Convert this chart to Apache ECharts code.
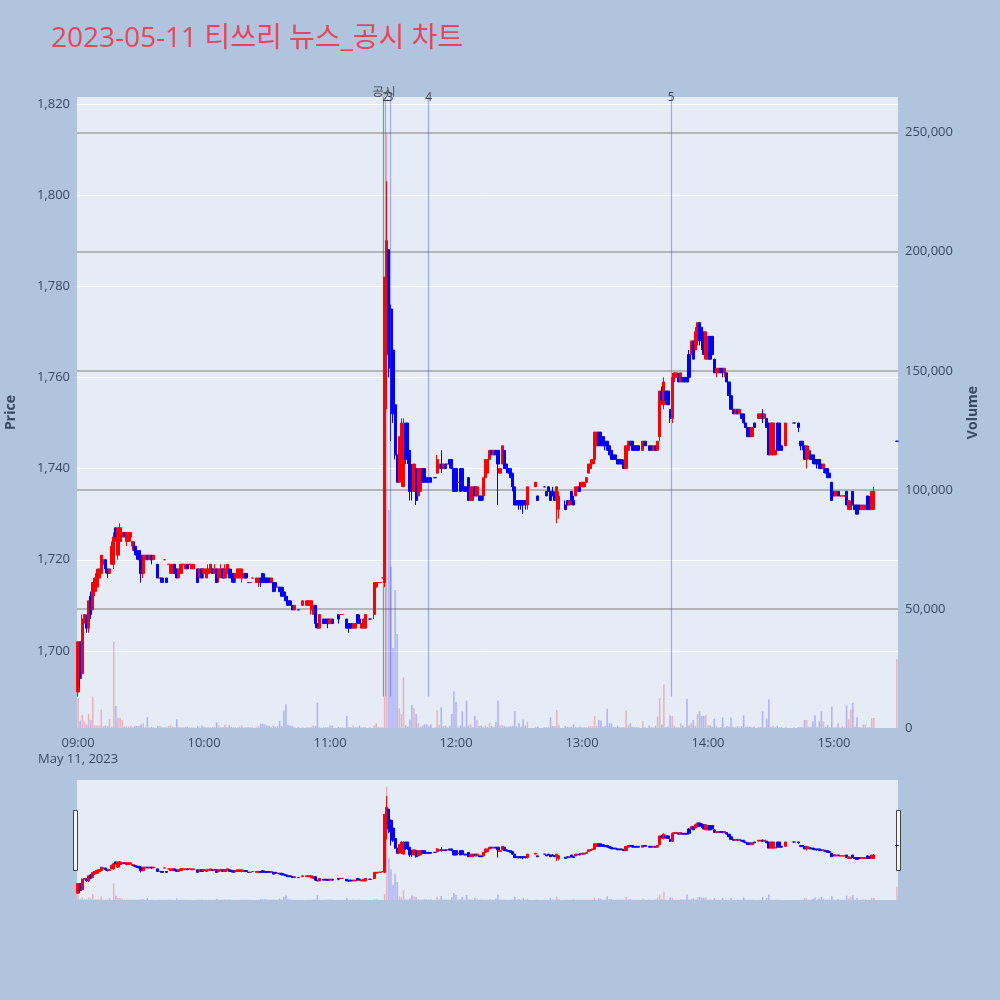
<!DOCTYPE html>
<html>
<head>
<meta charset="utf-8">
<script src="https://cdn.jsdelivr.net/npm/echarts@6/dist/echarts.min.js"></script>
<style>
html, body { margin: 0; padding: 0; background: #b0c4de; }
#main { width: 1000px; height: 1000px; }
</style>
</head>
<body>
<div id="main"></div>
<script>
// 1분봉 시각 (거래 없는 분은 빠짐)
var times = [
  '09:00','09:01','09:02','09:03','09:04','09:05','09:06','09:07','09:08','09:09',
  '09:10','09:11','09:12','09:13','09:14','09:15','09:16','09:17','09:18','09:19',
  '09:20','09:21','09:22','09:23','09:24','09:25','09:26','09:27','09:28','09:29',
  '09:30','09:31','09:32','09:33','09:34','09:35','09:36','09:38','09:39','09:40',
  '09:41','09:42','09:43','09:44','09:45','09:46','09:47','09:48','09:49','09:50',
  '09:51','09:52','09:53','09:54','09:55','09:57','09:58','09:59',
  '10:00','10:01','10:02','10:03','10:04','10:05','10:06','10:07','10:08','10:09',
  '10:10','10:11','10:12','10:13','10:14','10:15','10:16','10:17','10:18','10:19',
  '10:20','10:21','10:22','10:23','10:25','10:26','10:27','10:28','10:29','10:30',
  '10:31','10:32','10:33','10:34','10:35','10:36','10:37','10:38','10:39','10:40',
  '10:41','10:42','10:43','10:45','10:47','10:49','10:50','10:51','10:52','10:53',
  '10:54','10:55','10:57','10:58','10:59',
  '11:00','11:01','11:04','11:05','11:06','11:08','11:09','11:10','11:11','11:12',
  '11:13','11:14','11:15','11:16','11:17','11:19','11:21','11:22','11:23','11:24',
  '11:25','11:26','11:27','11:28','11:29','11:30','11:31','11:32','11:33','11:34',
  '11:35','11:36','11:37','11:38','11:39','11:40','11:41','11:42','11:43','11:44',
  '11:45','11:46','11:47','11:48','11:50','11:51','11:52','11:53','11:54','11:55',
  '11:56','11:57','11:58','11:59',
  '12:00','12:01','12:02','12:03','12:04','12:05','12:06','12:07','12:08','12:09',
  '12:10','12:11','12:12','12:13','12:14','12:15','12:16','12:17','12:18','12:19',
  '12:20','12:21','12:22','12:23','12:24','12:25','12:26','12:27','12:28','12:29',
  '12:30','12:31','12:32','12:33','12:34','12:38','12:39','12:42','12:43','12:44',
  '12:45','12:46','12:47','12:48','12:49','12:52','12:53','12:54','12:55','12:56',
  '12:57','12:58','12:59',
  '13:00','13:01','13:02','13:03','13:04','13:05','13:06','13:07','13:08','13:09',
  '13:10','13:11','13:12','13:13','13:14','13:15','13:16','13:17','13:18','13:19',
  '13:20','13:21','13:22','13:23','13:24','13:25','13:26','13:27','13:29','13:30',
  '13:32','13:33','13:34','13:35','13:36','13:37','13:38','13:39','13:40','13:41',
  '13:42','13:43','13:44','13:45','13:46','13:47','13:48','13:49','13:50','13:51',
  '13:52','13:53','13:54','13:55','13:56','13:57','13:58','13:59',
  '14:00','14:01','14:02','14:03','14:04','14:05','14:06','14:07','14:08','14:09',
  '14:10','14:11','14:12','14:13','14:14','14:15','14:16','14:17','14:18','14:19',
  '14:20','14:21','14:22','14:24','14:25','14:26','14:27','14:28','14:29','14:30',
  '14:31','14:32','14:33','14:34','14:35','14:37','14:41','14:43','14:44','14:45',
  '14:46','14:47','14:48','14:49','14:50','14:51','14:52','14:53','14:54','14:55',
  '14:56','14:57','14:58','14:59',
  '15:00','15:01','15:02','15:03','15:04','15:05','15:06','15:07','15:08','15:09',
  '15:10','15:11','15:12','15:13','15:14','15:15','15:16','15:17','15:18','15:19',
  '15:30'
];

// [시가, 종가, 저가, 고가]
var ohlc = [
  [1691,1702,1690,1702],[1702,1694,1692,1702],[1695,1707,1694,1708],[1707,1708,1706,1708],[1707,1705,1704,1708],
  [1705,1711,1704,1711],[1712,1708,1707,1713],[1709,1715,1709,1715],[1713,1716,1712,1716],[1714,1717,1713,1718],
  [1716,1718,1714,1718],[1717,1721,1716,1721],[1719,1720,1718,1721],[1720,1718,1717,1720],[1718,1717,1716,1718],
  [1717,1718,1717,1718],[1719,1723,1719,1724],[1719,1725,1718,1726],[1727,1725,1724,1727],[1721,1727,1720,1727],
  [1724,1727,1724,1728],[1725,1726,1724,1726],[1726,1725,1725,1726],[1724,1726,1723,1726],[1724,1726,1724,1726],
  [1725,1726,1724,1726],[1723,1724,1722,1724],[1723,1722,1721,1724],[1722,1721,1720,1723],[1722,1720,1720,1722],
  [1721,1717,1715,1721],[1717,1721,1716,1721],[1720,1721,1720,1721],[1721,1720,1720,1721],[1720,1721,1720,1721],
  [1721,1720,1719,1721],[1720,1721,1720,1721],[1719,1716,1716,1719],[1716,1716,1716,1716],[1716,1715,1715,1716],
  [1720,1720,1720,1720],[1716,1715,1715,1716],[1719,1719,1719,1719],[1717,1719,1717,1719],[1717,1719,1717,1719],
  [1719,1717,1717,1719],[1718,1716,1716,1718],[1716,1718,1716,1718],[1717,1719,1717,1719],[1719,1719,1719,1719],
  [1718,1719,1718,1719],[1719,1718,1718,1719],[1719,1719,1719,1719],[1718,1719,1718,1719],[1718,1719,1718,1719],
  [1718,1715,1715,1718],[1716,1718,1716,1718],[1718,1716,1716,1718],
  // 10시
  [1717,1718,1716,1718],[1716,1718,1716,1718],[1717,1718,1717,1719],[1718,1719,1717,1719],[1718,1717,1717,1718],
  [1717,1718,1717,1719],[1718,1715,1715,1718],[1716,1718,1715,1718],[1717,1718,1716,1719],[1718,1716,1716,1718],
  [1716,1718,1716,1719],[1717,1719,1716,1719],[1718,1716,1716,1718],[1717,1716,1715,1718],[1717,1715,1715,1717],
  [1716,1717,1715,1717],[1716,1718,1716,1718],[1716,1718,1716,1718],[1716,1718,1715,1718],[1716,1717,1716,1717],
  [1717,1716,1716,1717],[1715,1715,1715,1715],[1715,1715,1715,1715],[1716,1716,1716,1716],[1715,1716,1715,1716],
  [1715,1716,1714,1716],[1716,1715,1714,1716],[1717,1715,1715,1717],[1716,1715,1715,1717],[1716,1715,1715,1716],
  [1716,1715,1715,1716],[1715,1716,1715,1716],[1715,1713,1713,1715],[1715,1714,1713,1715],[1714,1714,1714,1714],
  [1714,1713,1713,1714],[1714,1712,1712,1714],[1713,1712,1712,1714],[1712,1711,1711,1713],[1711,1710,1710,1712],
  [1711,1710,1710,1711],[1710,1709,1709,1710],[1709,1710,1709,1710],[1709,1709,1709,1709],[1710,1711,1710,1711],
  [1710,1711,1710,1711],[1710,1711,1710,1711],[1709,1711,1708,1711],[1708,1710,1708,1710],[1710,1706,1705,1710],
  [1706,1705,1705,1706],[1705,1708,1705,1708],[1707,1706,1706,1707],[1707,1706,1706,1707],[1707,1706,1705,1707],
  // 11시
  [1706,1707,1706,1707],[1707,1706,1706,1707],[1708,1707,1706,1708],[1708,1708,1708,1708],[1708,1708,1708,1708],
  [1707,1705,1705,1707],[1706,1705,1704,1706],[1706,1705,1705,1706],[1705,1706,1705,1706],[1705,1706,1705,1706],
  [1708,1706,1706,1708],[1707,1706,1706,1708],[1705,1706,1705,1706],[1705,1707,1705,1707],[1705,1708,1705,1708],
  [1707,1707,1707,1707],[1708,1715,1707,1715],[1714,1715,1714,1715],[1715,1715,1715,1715],[1715,1715,1715,1715],
  [1716,1716,1716,1716],[1715,1782,1714,1782],[1768,1790,1753,1803],[1788,1765,1760,1788],[1775,1762,1746,1776],
  [1766,1752,1750,1766],[1754,1743,1742,1755],[1743,1737,1737,1743],[1737,1747,1737,1747],[1738,1750,1736,1751],
  [1736,1749,1736,1751],[1750,1742,1741,1750],[1750,1744,1741,1750],[1744,1735,1733,1744],[1740,1736,1733,1741],
  [1735,1741,1735,1741],[1740,1733,1732,1740],[1734,1740,1734,1740],[1735,1740,1735,1740],[1740,1737,1737,1740],
  [1740,1737,1737,1740],[1738,1737,1737,1738],[1738,1737,1737,1738],[1738,1737,1737,1738],[1738,1738,1738,1738],
  [1739,1742,1739,1743],[1740,1741,1740,1741],[1741,1740,1739,1744],[1740,1741,1740,1741],[1741,1740,1740,1741],
  [1741,1741,1741,1741],[1742,1741,1740,1742],[1742,1740,1740,1742],[1740,1735,1735,1740],
  // 12시
  [1740,1735,1735,1740],[1737,1737,1737,1737],[1740,1735,1735,1740],[1740,1736,1735,1740],[1736,1735,1735,1736],
  [1736,1735,1735,1736],[1738,1733,1733,1738],[1733,1736,1733,1736],[1733,1736,1733,1736],[1736,1734,1734,1736],
  [1734,1736,1734,1736],[1734,1733,1733,1734],[1734,1733,1733,1734],[1734,1738,1733,1738],[1738,1742,1738,1742],
  [1739,1742,1739,1742],[1742,1744,1742,1744],[1744,1743,1743,1744],[1743,1744,1743,1744],[1744,1743,1743,1744],
  [1744,1741,1732,1744],[1739,1740,1739,1740],[1741,1745,1741,1745],[1744,1740,1740,1744],[1741,1740,1739,1741],
  [1740,1739,1739,1740],[1740,1738,1738,1740],[1739,1736,1735,1739],[1736,1732,1732,1736],[1733,1732,1732,1733],
  [1733,1732,1731,1733],[1733,1732,1731,1733],[1733,1732,1730,1733],[1733,1732,1731,1733],[1732,1736,1731,1736],
  [1736,1737,1736,1737],[1734,1733,1733,1734],[1736,1736,1736,1736],[1735,1734,1734,1735],[1736,1735,1735,1736],
  [1735,1733,1733,1735],[1735,1734,1734,1736],[1734,1733,1733,1735],[1733,1736,1728,1736],[1731,1734,1729,1735],
  [1732,1731,1731,1733],[1733,1732,1732,1733],[1732,1733,1732,1733],[1735,1733,1732,1735],[1733,1732,1732,1734],
  [1734,1736,1734,1736],[1735,1736,1735,1736],[1736,1735,1735,1737],
  // 13시
  [1736,1737,1736,1737],[1736,1737,1736,1737],[1737,1738,1737,1738],[1739,1741,1739,1741],[1740,1741,1740,1742],
  [1741,1742,1741,1742],[1742,1748,1741,1748],[1745,1748,1745,1748],[1748,1745,1745,1748],[1748,1745,1745,1748],
  [1747,1745,1745,1747],[1746,1745,1744,1746],[1746,1744,1744,1746],[1745,1743,1743,1745],[1744,1742,1742,1744],
  [1743,1742,1742,1743],[1743,1742,1742,1743],[1742,1741,1741,1742],[1742,1741,1741,1742],[1742,1741,1741,1742],
  [1741,1740,1740,1742],[1740,1745,1740,1745],[1744,1746,1743,1746],[1746,1745,1745,1746],[1746,1744,1744,1746],
  [1745,1744,1744,1745],[1745,1744,1744,1745],[1745,1744,1744,1745],[1744,1746,1744,1746],[1746,1745,1745,1746],
  [1745,1744,1744,1745],[1745,1744,1744,1745],[1744,1745,1744,1745],[1745,1744,1744,1745],[1744,1746,1744,1746],
  [1747,1757,1746,1757],[1757,1755,1754,1758],[1754,1759,1753,1760],[1757,1755,1754,1757],[1757,1754,1754,1757],
  [1753,1751,1750,1753],[1751,1760,1750,1761],[1760,1761,1759,1761],[1760,1761,1760,1761],[1760,1759,1759,1761],
  [1759,1761,1759,1761],[1760,1759,1759,1760],[1760,1759,1759,1760],[1760,1759,1759,1760],[1765,1760,1760,1766],
  [1765,1768,1765,1768],[1768,1764,1764,1768],[1766,1770,1766,1771],[1768,1772,1767,1772],[1772,1768,1767,1772],
  [1771,1769,1766,1771],[1770,1765,1765,1770],[1764,1770,1764,1770],
  // 14시
  [1764,1769,1764,1769],[1769,1764,1764,1769],[1769,1765,1764,1769],[1764,1761,1761,1764],[1761,1762,1760,1762],
  [1761,1762,1761,1762],[1762,1761,1761,1762],[1762,1761,1760,1762],[1761,1762,1760,1762],[1761,1759,1759,1761],
  [1759,1756,1756,1759],[1756,1753,1753,1756],[1753,1752,1752,1753],[1752,1753,1752,1753],[1753,1752,1752,1753],
  [1752,1753,1752,1753],[1752,1751,1751,1752],[1752,1750,1750,1752],[1750,1749,1749,1750],[1749,1747,1747,1749],
  [1749,1747,1747,1749],[1747,1749,1747,1749],[1750,1749,1749,1750],[1751,1752,1751,1752],[1751,1752,1751,1752],
  [1752,1751,1750,1753],[1751,1752,1751,1752],[1751,1749,1749,1751],[1750,1743,1743,1750],[1743,1750,1743,1750],
  [1743,1750,1743,1750],[1743,1744,1743,1750],[1750,1744,1744,1750],[1750,1744,1744,1750],[1745,1744,1744,1745],
  [1745,1750,1745,1750],[1750,1750,1750,1750],[1750,1749,1748,1750],[1746,1745,1744,1746],[1746,1745,1744,1746],
  [1745,1742,1742,1745],[1742,1745,1740,1745],[1743,1744,1742,1745],[1743,1742,1742,1744],[1743,1742,1741,1743],
  [1742,1741,1741,1742],[1742,1741,1740,1742],[1742,1740,1740,1742],[1741,1740,1740,1741],[1740,1741,1739,1741],
  [1740,1739,1739,1740],[1740,1738,1738,1740],[1739,1738,1738,1739],[1737,1733,1733,1737],
  // 15시
  [1735,1734,1734,1735],[1734,1735,1734,1735],[1735,1734,1734,1735],[1734,1734,1734,1734],[1734,1734,1734,1734],
  [1734,1734,1734,1734],[1735,1732,1732,1735],[1731,1733,1731,1733],[1731,1732,1731,1733],[1735,1732,1732,1735],
  [1732,1731,1731,1732],[1732,1730,1730,1732],[1732,1731,1731,1732],[1731,1732,1731,1732],[1731,1732,1731,1732],
  [1731,1732,1731,1732],[1734,1731,1731,1734],[1732,1731,1731,1734],[1731,1735,1731,1735],[1731,1735,1731,1736],
  [1746,1746,1746,1746]
];

// 분당 거래량
var volumes = [
  12500,3000,5500,2700,1500,5900,3400,13200,1200,1000,
  1000,7800,800,1000,800,3600,500,36300,9200,4300,
  4300,3400,500,800,600,1000,500,800,800,800,
  1500,2000,300,4600,300,500,300,800,800,300,
  300,300,800,1000,500,300,3600,300,300,300,
  500,500,300,300,300,800,300,1000,
  500,300,300,300,300,500,2400,1000,300,300,
  1500,300,1200,500,300,300,300,500,1000,300,
  300,300,300,300,300,800,1800,1800,1500,1000,
  800,500,1000,500,800,3000,800,7300,10000,1500,
  1000,800,500,300,300,300,300,500,1000,800,
  10600,300,300,300,300,
  1000,1000,500,300,300,5000,300,300,1000,300,
  300,1000,300,300,300,300,1000,2000,300,300,
  300,13200,250000,91600,67700,33600,58000,39500,8300,5900,
  21300,1200,500,3600,9700,8300,5900,2000,500,1000,
  1500,1500,800,1500,300,7300,1500,8700,800,1000,
  300,1000,5900,15300,
  11000,300,1000,7000,500,11500,1000,1500,500,5000,
  3400,800,1000,500,1000,500,2200,800,500,2500,
  11500,1000,1300,800,500,500,800,800,7000,500,
  2000,500,3600,1000,2700,500,500,300,300,300,
  4500,800,800,7600,1500,800,500,500,500,1500,
  500,300,500,
  300,300,300,500,800,800,5000,800,3400,3000,
  500,800,8100,2000,2000,500,300,1000,300,300,
  300,7300,1000,2000,500,300,300,300,2800,300,
  1000,300,300,1000,4800,12500,1500,18300,300,500,
  5300,5000,1000,300,300,2000,1000,300,12300,1000,
  2000,3400,1000,5900,7000,5000,5000,5600,
  1000,1200,500,3900,1000,300,300,4500,300,800,
  500,4500,500,300,800,300,800,5300,500,500,
  500,300,500,500,500,7000,300,3900,12000,500,
  800,300,800,300,300,300,300,300,300,300,
  3400,3400,500,500,2800,5300,500,2800,7000,2800,
  500,1200,300,9000,
  300,300,2000,300,800,300,9500,3600,7800,10600,
  500,4500,300,300,1500,1500,300,300,4200,4200,
  29000
];

// 세로 표시선 (공시·뉴스 시각)
var eventTimes = ['11:25:42', '11:26:36', '11:28:30', '11:47:06', '13:42:24'];
var eventLabels = ['공시', '2', '3', '4', '5'];

var UP = '#ff0000', DOWN = '#0000ff';
var priceMin = 1683.1, priceMax = 1821.5, volMax = 265000;

function pad(n) { return (n < 10 ? '0' : '') + n; }

// 장 시작부터 끝까지 모든 분을 x 카테고리로
var categories = [];
for (var t = 9 * 60; t <= 15 * 60 + 30; t++) {
  categories.push(pad(Math.floor(t / 60)) + ':' + pad(t % 60));
}

var candleData = [], volData = [];
var prevClose = null;
categories.forEach(function (c) {
  var i = times.indexOf(c);
  if (i < 0) { candleData.push('-'); volData.push('-'); return; }
  var d = ohlc[i];
  var up = d[1] > d[0] || (d[1] === d[0] && (prevClose === null || d[1] >= prevClose));
  prevClose = d[1];
  candleData.push(d);
  volData.push({
    value: volumes[i],
    itemStyle: { color: up ? 'rgba(255,0,0,0.25)' : 'rgba(0,0,255,0.25)' }
  });
});

function toMinute(s) {
  var p = s.split(':');
  return (+p[0]) * 60 + (+p[1]) + (+p[2]) / 60 - 9 * 60;
}

var eventLines = eventTimes.map(function (s, k) {
  // 반픽셀 흐림을 줄이려고 분 단위로 반올림
  var x = Math.round(toMinute(s) * 2) / 2;
  return [
    {
      name: eventLabels[k],
      coord: [x, 1690],
      lineStyle: { color: k === 0 ? 'rgba(0,140,0,0.6)' : 'rgba(40,70,255,0.4)', width: 1.2, type: 'solid' },
      label: { distance: k === 0 ? -1 : -7 }
    },
    { coord: [x, priceMax] }
  ];
});

var textColor = '#3a4a60';
var font = 'Open Sans';

var myChart = echarts.init(document.getElementById('main'));

myChart.setOption({
  backgroundColor: '#b0c4de',
  animation: false,
  title: {
    text: '2023-05-11 티쓰리 뉴스_공시 차트',
    left: 46,
    top: 20,
    textStyle: { color: '#e8455a', fontSize: 28, fontWeight: 'normal', fontFamily: "'Open Sans', 'Noto Sans CJK KR'" }
  },
  grid: [
    { left: 77, right: 102, top: 97, height: 631, show: true, backgroundColor: '#e5ecf6', borderWidth: 0, outerBoundsMode: 'none' },
    { left: 77, right: 102, top: 780, height: 120, show: true, backgroundColor: '#e5ecf6', borderWidth: 0, outerBoundsMode: 'none' }
  ],
  xAxis: [
    {
      type: 'category', gridIndex: 0, data: categories, boundaryGap: true,
      axisLine: { show: false }, axisTick: { show: false }, splitLine: { show: false },
      axisLabel: {
        interval: 59, color: textColor, fontSize: 13, fontFamily: font, margin: 7, lineHeight: 16,
        formatter: function (v, i) { return i === 0 ? v + '\nMay 11, 2023' : v; }
      }
    },
    {
      type: 'category', gridIndex: 1, data: categories, boundaryGap: true,
      axisLine: { show: false }, axisTick: { show: false }, axisLabel: { show: false }, splitLine: { show: false }
    },
    { type: 'value', gridIndex: 0, min: -0.5, max: categories.length - 0.5, show: false }
  ],
  yAxis: [
    {
      type: 'value', gridIndex: 0, position: 'left', min: priceMin, max: priceMax, splitNumber: 7,
      name: 'Price', nameLocation: 'middle', nameGap: 59,
      nameTextStyle: { color: textColor, fontSize: 14, fontWeight: 'bold', fontFamily: font },
      axisLine: { show: false }, axisTick: { show: false },
      axisLabel: {
        color: textColor, fontSize: 13, fontFamily: font, margin: 7,
        showMinLabel: false, showMaxLabel: false,
        formatter: function (v) { return v.toLocaleString('en-US'); }
      },
      splitLine: { show: true, showMinLine: false, showMaxLine: false, lineStyle: { color: '#ffffff', width: 1 } }
    },
    {
      type: 'value', gridIndex: 0, position: 'right', min: 0, max: volMax, splitNumber: 5,
      name: 'Volume', nameLocation: 'middle', nameGap: 68,
      nameTextStyle: { color: textColor, fontSize: 14, fontWeight: 'bold', fontFamily: font },
      axisLine: { show: false }, axisTick: { show: false },
      axisLabel: {
        color: textColor, fontSize: 13, fontFamily: font, margin: 7, showMaxLabel: false,
        formatter: function (v) { return v.toLocaleString('en-US'); }
      },
      splitLine: { show: true, showMinLine: false, showMaxLine: false, lineStyle: { color: '#a3a3a3', width: 1.5 } }
    },
    { type: 'value', gridIndex: 1, min: priceMin, max: priceMax, show: false },
    { type: 'value', gridIndex: 1, min: 0, max: volMax, show: false }
  ],
  series: [
    {
      name: 'Volume', type: 'bar', xAxisIndex: 0, yAxisIndex: 1, data: volData,
      barWidth: 1.5, z: 1, silent: true
    },
    {
      name: 'Price', type: 'candlestick', xAxisIndex: 0, yAxisIndex: 0, data: candleData,
      barWidth: 2.7, z: 3,
      itemStyle: { color: UP, color0: DOWN, borderColor: UP, borderColor0: DOWN, borderWidth: 1 }
    },
    {
      name: 'events', type: 'line', xAxisIndex: 2, yAxisIndex: 0, data: [], z: 4,
      markLine: {
        silent: true, symbol: ['none', 'none'], animation: false,
        label: {
          show: true, position: 'end', formatter: '{b}',
          color: '#444', fontSize: 12, fontFamily: font
        },
        data: eventLines
      }
    },
    {
      type: 'bar', xAxisIndex: 1, yAxisIndex: 3, data: volData, barWidth: 1.5, silent: true
    },
    {
      type: 'candlestick', xAxisIndex: 1, yAxisIndex: 2, data: candleData, barWidth: 2.7, silent: true,
      itemStyle: { color: UP, color0: DOWN, borderColor: UP, borderColor0: DOWN, borderWidth: 1 }
    }
  ],
  graphic: [
    { type: 'rect', left: 73, top: 810, shape: { width: 4, height: 60 }, style: { fill: '#f4f4f4', stroke: '#444', lineWidth: 1 } },
    { type: 'rect', left: 896, top: 810, shape: { width: 4, height: 60 }, style: { fill: '#f4f4f4', stroke: '#444', lineWidth: 1 } }
  ]
});
</script>
</body>
</html>
